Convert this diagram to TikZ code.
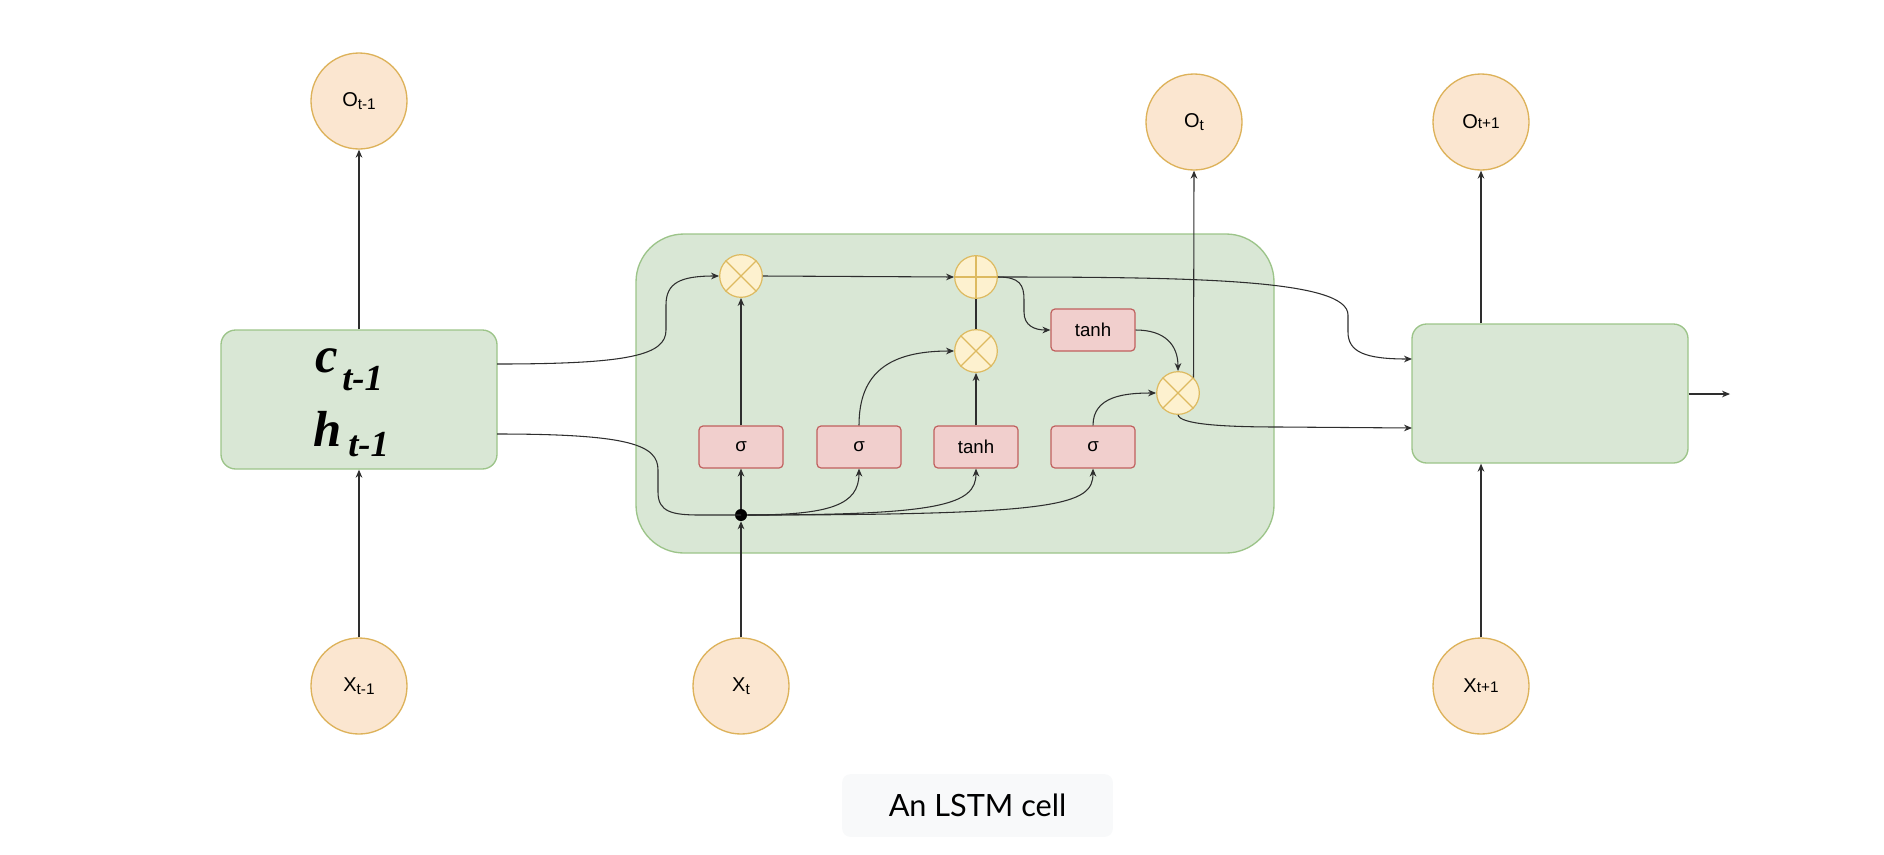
\documentclass[tikz,border=0pt]{standalone}
\usepackage{fontspec}
\setmainfont{Liberation Sans}
\newfontfamily\serifbi{Liberation Serif}
\newfontfamily\capfont{Lato}
\usetikzlibrary{arrows.meta}
\definecolor{cfill}{HTML}{FBE6D0}
\definecolor{cdraw}{HTML}{DDB25A}
\definecolor{gfill}{HTML}{D9E7D5}
\definecolor{gdraw}{HTML}{9CC489}
\definecolor{rfill}{HTML}{F1CFCD}
\definecolor{rdraw}{HTML}{C0605E}
\definecolor{yfill}{HTML}{FDF1CF}
\definecolor{ydraw}{HTML}{DDBA60}
\definecolor{lcol}{HTML}{2E2E2E}
\definecolor{capfill}{HTML}{F8F9FA}
\newcommand\lowsub[1]{{\fontsize{11.5}{12}\selectfont\raisebox{-2.75pt}{#1}}}
\newcommand\smallsub[1]{{\fontsize{11.5}{12}\selectfont #1}}
\newcommand\mulmark[1]{\draw[ydraw, line width=0.9pt] (#1.45) -- (#1.225) (#1.135) -- (#1.315);}
\newcommand\plusmark[1]{\draw[ydraw, line width=0.9pt] (#1.north) -- (#1.south) (#1.east) -- (#1.west);}
\tikzset{
  io/.style={circle, fill=cfill, draw=cdraw, line width=1pt, minimum size=72pt, inner sep=0pt, font=\fontsize{15}{18}\selectfont},
  gatebox/.style={rounded corners=3pt, fill=rfill, draw=rdraw, line width=0.9pt, minimum width=63pt, minimum height=31.5pt, inner sep=0pt, font=\fontsize{14}{16}\selectfont},
  cellbox/.style={fill=gfill, draw=gdraw, line width=1pt, rounded corners=11pt, minimum width=207pt, minimum height=104.25pt, inner sep=0pt},
  bigcell/.style={fill=gfill, draw=gdraw, line width=1pt, rounded corners=36pt, minimum width=478.5pt, minimum height=239.25pt, inner sep=0pt},
  op/.style={circle, fill=yfill, draw=ydraw, line width=0.9pt, minimum size=32pt, inner sep=0pt},
  conn/.style={draw=lcol, line width=0.8pt},
  arr/.style={conn, -{Stealth[length=6pt,width=5pt]}},
  bigtxt/.style={anchor=base west, inner sep=0pt, font=\serifbi\bfseries\itshape\fontsize{38}{40}\selectfont},
  subtxt/.style={anchor=base west, inner sep=0pt, font=\serifbi\bfseries\itshape\fontsize{27.5}{30}\selectfont},
}
\begin{document}
\begin{tikzpicture}[x=0.75pt,y=-0.75pt]
\useasboundingbox (0,0) rectangle (1884,854);
% cells
\node[bigcell] (cell) at (955,393.5) {};
\node[cellbox] (lb) at (359,399.5) {};
\node[cellbox] (rb) at (1550,393.5) {};
\node[bigtxt] (cT) at (315,372) {c};
\node[subtxt] (cS) at (342,390) {t-1};
\node[bigtxt] (hT) at (313,446) {h};
\node[subtxt] (hS) at (348,456) {t-1};
% io circles
\node[io] (Ot1) at (359,101) {O\lowsub{t-1}};
\node[io] (Xt1) at (359,686) {X\lowsub{t-1}};
\node[io] (Xt) at (741,686) {X\lowsub{t}};
\node[io] (Ot) at (1194,122) {O\lowsub{t}};
\node[io] (Ot2) at (1481,122) {O\smallsub{t+1}};
\node[io] (Xt2) at (1481,686) {X\smallsub{t+1}};
% gates
\node[op] (g1) at (741,276) {};
\node[op] (plus) at (976,277) {};
\node[op] (g2) at (976,351) {};
\node[op] (g3) at (1178,393) {};
\mulmark{g1}
\plusmark{plus}
\mulmark{g2}
\mulmark{g3}
\node[gatebox] (s1) at (741,447) {σ};
\node[gatebox] (s2) at (859,447) {σ};
\node[gatebox] (th) at (976,447) {tanh};
\node[gatebox] (s4) at (1093,447) {σ};
\node[gatebox] (tb) at (1093,330) {tanh};
\node[circle, fill=black, minimum size=9pt, inner sep=0pt] (dot) at (741,515) {};
% free-end coordinates on box edges
\coordinate (cOut) at (497,364);
\coordinate (hOut) at (497,434);
\coordinate (rbIn1) at (1412,359);
\coordinate (rbIn2) at (1412,428);
\coordinate (out) at (1730,394);
% connectors
\draw[arr] (Xt1.north) -- (lb.south);
\draw[arr] (lb.north) -- (Ot1.south);
\draw[arr] (cOut) .. controls (630,364) and (666,355) .. (666,330) -- (666,305) .. controls (666,283) and (680,276) .. (g1.west);
\draw[conn] (hOut) .. controls (630,434) and (658,445) .. (658,470) -- (658,492) .. controls (658,512) and (672,515) .. (700,515) -- (dot.center);
\draw[arr] (Xt.north) -- (dot.south);
\draw[arr] (dot.north) -- (s1.south);
\draw[arr] (dot.east) .. controls (830,515) and (859,505) .. (s2.south);
\draw[arr] (dot.east) .. controls (940,515) and (976,505) .. (th.south);
\draw[arr] (dot.east) .. controls (1060,515) and (1093,505) .. (s4.south);
\draw[arr] (s1.north) -- (g1.south);
\draw[arr] (s2.north) .. controls (859,372) and (890,351) .. (g2.west);
\draw[arr] (th.north) -- (g2.south);
\draw[conn] (g2.north) -- (plus.south);
\draw[arr] (g1.east) -- (plus.west);
\draw[arr] (plus.east) .. controls (1020,277) and (1024,285) .. (1024,300) -- (1024,312) .. controls (1024,326) and (1035,330) .. (tb.west);
\draw[arr] (tb.east) .. controls (1165,330) and (1178,345) .. (g3.north);
\draw[arr] (s4.north) .. controls (1093,396) and (1125,393) .. (g3.west);
\draw[arr] (g3.45) -- (Ot.south);
\draw[arr] (plus.east) .. controls (1200,277) and (1348,280) .. (1348,315) -- (1348,332) .. controls (1348,352) and (1365,359) .. (rbIn1);
\draw[arr] (g3.south) .. controls (1180,424) and (1220,427) .. (1280,427) -- (rbIn2);
\draw[arr] (Xt2.north) -- (Xt2.north |- rb.south);
\draw[arr] (Ot2.south |- rb.north) -- (Ot2.south);
\draw[arr] (rb.east |- out) -- (out);
% caption
\node[fill=capfill, rounded corners=6pt, minimum width=203pt, minimum height=47pt, inner sep=0pt, font=\capfont\fontsize{23}{26}\selectfont] (cap) at (977.5,805.5) {An LSTM cell};
\end{tikzpicture}
\end{document}
